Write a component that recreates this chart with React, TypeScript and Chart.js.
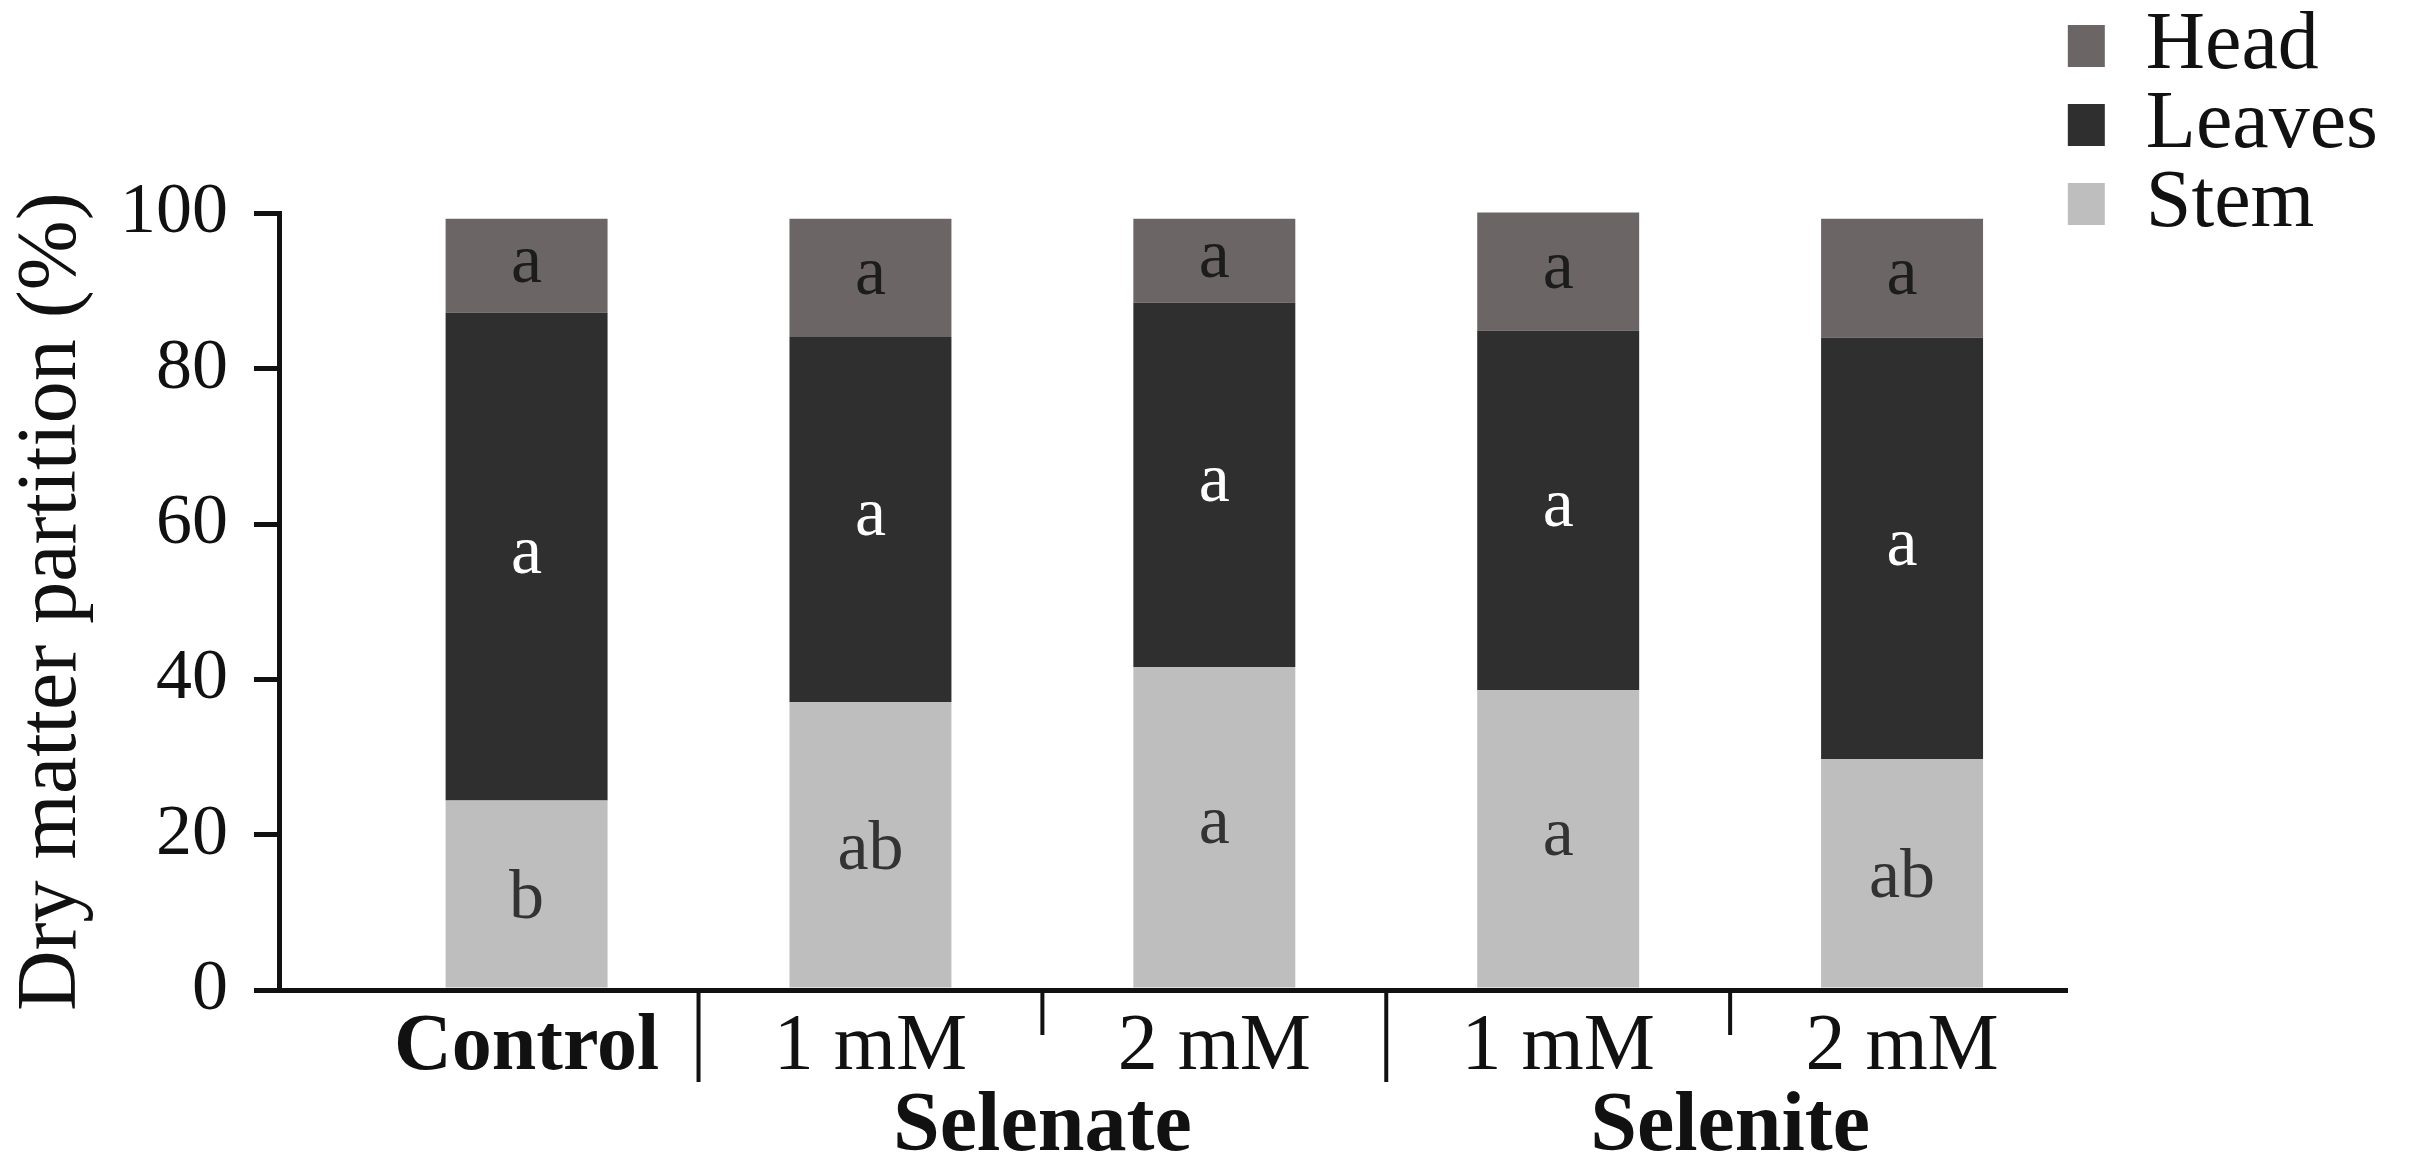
import React, { useEffect, useRef } from 'react';
import { Chart, registerables } from 'chart.js';

Chart.register(...registerables);

// ---- data ----
const categories = ['Control', '1 mM', '2 mM', '1 mM', '2 mM'];
const groupNames = ['Selenate', 'Selenite'];
const groupMembers = [[1, 2], [3, 4]];
const yTicks = [0, 20, 40, 60, 80, 100];
const seriesNames = ['Stem', 'Leaves', 'Head'];
const stemValues = [24.4, 37.1, 41.6, 38.6, 29.7];
const leavesValues = [62.8, 47.0, 46.9, 46.3, 54.3];
const headValues = [12.1, 15.2, 10.8, 15.2, 15.3];
const stemLetters = ['b', 'ab', 'a', 'a', 'ab'];
const leavesLetters = ['a', 'a', 'a', 'a', 'a'];
const headLetters = ['a', 'a', 'a', 'a', 'a'];

// ---- style ----
const SERIF = "'Liberation Serif', 'Times New Roman', serif";
const INK = '#111111';
const X_MIN = -0.72;
const X_MAX = 4.482;

const groupOf = (i: number) => groupMembers.findIndex((g) => g.includes(i));
const mean = (a: number[]) => a.reduce((s, v) => s + v, 0) / a.length;

const letterPlugin = {
  id: 'segmentLetters',
  afterDatasetsDraw(chart: any) {
    const ctx = chart.ctx;
    chart.data.datasets.forEach((ds: any, di: number) => {
      const meta = chart.getDatasetMeta(di);
      if (meta.hidden) return;
      meta.data.forEach((el: any, i: number) => {
        const t = ds.letters?.[i];
        if (!t) return;
        const cy = (el.y + el.base) / 2;
        ctx.save();
        ctx.font = `70px ${SERIF}`;
        ctx.fillStyle = ds.letterColor;
        ctx.textAlign = 'center';
        ctx.textBaseline = 'alphabetic';
        const m = ctx.measureText(t);
        ctx.fillText(t, el.x, cy + (m.actualBoundingBoxAscent - m.actualBoundingBoxDescent) / 2);
        ctx.restore();
      });
    });
  },
};

const separatorPlugin = {
  id: 'separators',
  afterDraw(chart: any) {
    const xs = chart.scales.x;
    const ctx = chart.ctx;
    const bottom = chart.chartArea.bottom;
    ctx.save();
    ctx.strokeStyle = INK;
    ctx.lineWidth = 4;
    for (let i = 0; i < categories.length - 1; i++) {
      const g = groupOf(i);
      const within = g >= 0 && g === groupOf(i + 1);
      const px = xs.getPixelForValue(i + 0.5);
      ctx.beginPath();
      ctx.moveTo(px, bottom);
      ctx.lineTo(px, bottom + (within ? 45 : 92));
      ctx.stroke();
    }
    ctx.restore();
  },
};

function buildConfig(): any {
  const toPoints = (vals: number[]) => vals.map((v, i) => ({ x: i, y: v }));
  return {
    type: 'bar',
    data: {
      datasets: [
        { label: seriesNames[0], data: toPoints(stemValues), backgroundColor: '#bebebe', letters: stemLetters, letterColor: '#333333' },
        { label: seriesNames[1], data: toPoints(leavesValues), backgroundColor: '#2f2f2f', letters: leavesLetters, letterColor: '#ffffff' },
        { label: seriesNames[2], data: toPoints(headValues), backgroundColor: '#6c6566', letters: headLetters, letterColor: '#1c1c1c' },
      ],
    },
    options: {
      responsive: false,
      animation: false,
      layout: { padding: { top: 8, right: 22, bottom: 0, left: 0 } },
      datasets: { bar: { barPercentage: 0.471, categoryPercentage: 1, borderWidth: 0, clip: false } },
      plugins: {
        title: { display: true, text: ' ', padding: { top: 0, bottom: 195.4 }, font: { size: 10, lineHeight: 1 } },
        legend: {
          position: 'right',
          align: 'start',
          reverse: true,
          labels: { boxWidth: 40, boxHeight: 42, padding: -3, color: INK, font: { family: SERIF, size: 82 } },
        },
        tooltip: { enabled: false },
      },
      scales: {
        x: {
          type: 'linear',
          offset: false,
          bounds: 'data',
          min: X_MIN,
          max: X_MAX,
          stacked: true,
          z: 1,
          weight: 0,
          afterBuildTicks: (s: any) => { s.ticks = categories.map((_, i) => ({ value: i })); },
          afterFit: (s: any) => { s.height = 80; },
          grid: { display: false, offset: false },
          border: { display: true, color: INK, width: 5 },
          ticks: {
            autoSkip: false,
            maxRotation: 0,
            minRotation: 0,
            padding: 2,
            color: INK,
            callback: (_v: any, i: number) => categories[i],
            font: (c: any) => ({ family: SERIF, size: 80, weight: c.index === 0 ? 'bold' : 'normal' }),
          },
        },
        x2: {
          type: 'linear',
          position: 'bottom',
          offset: false,
          bounds: 'data',
          min: X_MIN,
          max: X_MAX,
          weight: 1,
          afterBuildTicks: (s: any) => { s.ticks = groupMembers.map((g) => ({ value: mean(g) })); },
          afterFit: (s: any) => { s.height = 103; },
          grid: { display: false, offset: false },
          border: { display: false },
          ticks: {
            autoSkip: false,
            maxRotation: 0,
            minRotation: 0,
            padding: 0,
            color: INK,
            callback: (_v: any, i: number) => groupNames[i],
            font: { family: SERIF, size: 84, weight: 'bold' },
          },
        },
        y: {
          min: 0,
          max: 100,
          stacked: true,
          z: 1,
          afterBuildTicks: (s: any) => { s.ticks = yTicks.map((v) => ({ value: v })); },
          afterFit: (s: any) => { s.width = 279; },
          grid: { drawOnChartArea: false, drawTicks: true, tickLength: 25, lineWidth: 5, color: INK },
          border: { display: true, color: INK, width: 5 },
          ticks: { padding: 26, color: INK, font: { family: SERIF, size: 72 } },
          title: {
            display: true,
            text: 'Dry matter partition (%)',
            color: INK,
            padding: { top: 3, bottom: 0 },
            font: { family: SERIF, size: 84 },
          },
        },
      },
    },
    plugins: [letterPlugin, separatorPlugin],
  };
}

export default function App() {
  const ref = useRef<HTMLCanvasElement>(null);
  useEffect(() => {
    if (!ref.current) return;
    const chart = new Chart(ref.current, buildConfig());
    return () => chart.destroy();
  }, []);
  return (
    <div style={{ position: 'fixed', left: 0, top: 0, width: 2410, height: 1173, background: '#ffffff' }}>
      <canvas ref={ref} width={2410} height={1173} style={{ display: 'block', width: 2410, height: 1173 }} />
    </div>
  );
}
